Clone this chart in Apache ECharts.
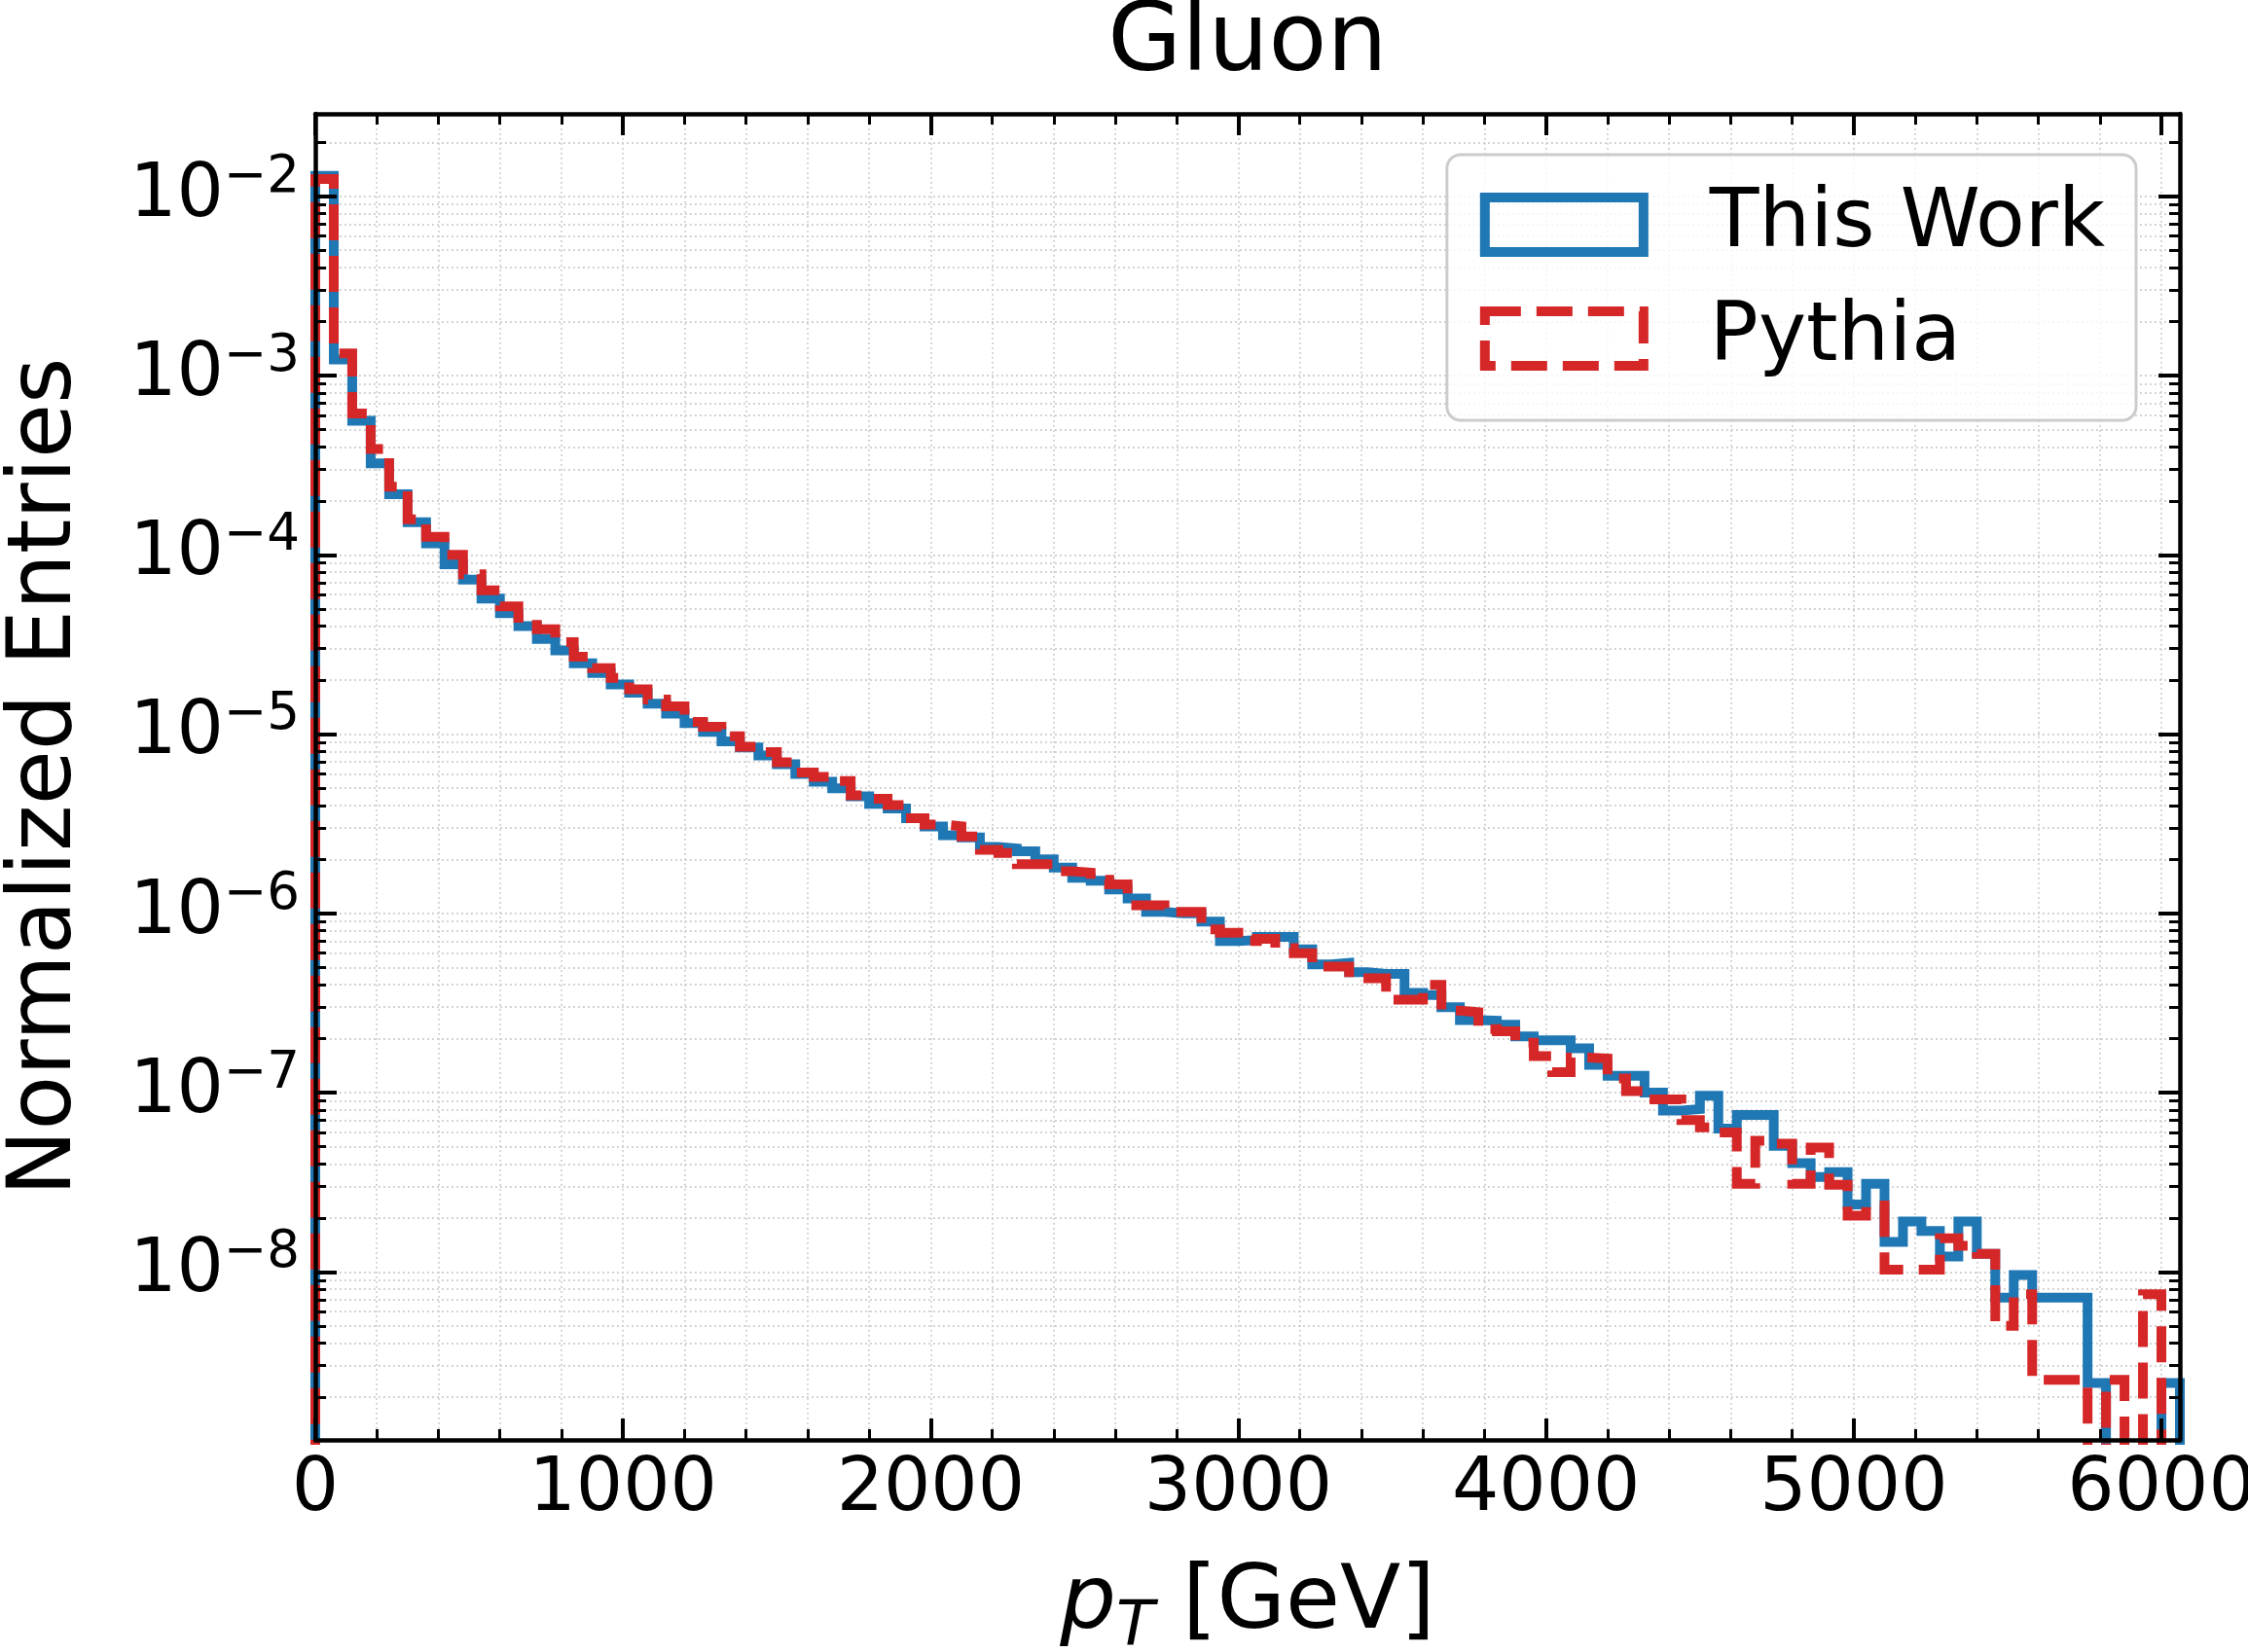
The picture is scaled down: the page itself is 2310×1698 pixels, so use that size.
<!DOCTYPE html>
<html>
<head>
<meta charset="utf-8">
<title>Gluon pT</title>
<script src="https://cdn.jsdelivr.net/npm/echarts@6/dist/echarts.min.js"></script>
<style>
  html, body { margin: 0; padding: 0; background: #fff; }
  #chart { width: 2310px; height: 1698px; }
</style>
</head>
<body>
<div id="chart"></div>
<script>
// histogram bins: 60 GeV wide, 101 bins from 0 to 6060 GeV
var binWidth = 60;
var xMax = 6060;
var xMajor = [0, 1000, 2000, 3000, 4000, 5000, 6000];
var xMinor = [200, 400, 600, 800, 1200, 1400, 1600, 1800, 2200, 2400, 2600, 2800,
              3200, 3400, 3600, 3800, 4200, 4400, 4600, 4800, 5200, 5400, 5600, 5800];
var yMajorExp = [-8, -7, -6, -5, -4, -3, -2];
// log10 of the y limits
var yMin = -8.937;
var yMax = -1.540;

// normalized entries per bin
var thisWork = [
  1.30e-2, 1.23e-3, 5.6e-4, 3.24e-4, 2.18e-4, 1.52e-4, 1.16e-4, 8.85e-5, 7.28e-5, 5.71e-5,
  4.73e-5, 4.01e-5, 3.39e-5, 2.93e-5, 2.48e-5, 2.19e-5, 1.89e-5, 1.70e-5, 1.48e-5, 1.30e-5,
  1.15e-5, 1.03e-5, 9.12e-6, 8.43e-6, 7.6e-6, 6.8e-6, 6.0e-6, 5.42e-6, 4.99e-6, 4.5e-6,
  4.08e-6, 3.85e-6, 3.39e-6, 3.05e-6, 2.73e-6, 2.65e-6, 2.35e-6, 2.3e-6, 2.22e-6, 2.0e-6,
  1.80e-6, 1.58e-6, 1.52e-6, 1.36e-6, 1.21e-6, 1.02e-6, 1.0e-6, 1.0e-6, 9.0e-7, 7.0e-7,
  7.1e-7, 7.4e-7, 7.4e-7, 6.3e-7, 5.2e-7, 5.3e-7, 4.7e-7, 4.6e-7, 4.6e-7, 3.6e-7,
  3.5e-7, 3.0e-7, 2.54e-7, 2.52e-7, 2.39e-7, 2.06e-7, 1.96e-7, 1.96e-7, 1.77e-7, 1.43e-7,
  1.24e-7, 1.24e-7, 1.0e-7, 7.94e-8, 8.1e-8, 9.6e-8, 6.3e-8, 7.5e-8, 7.5e-8, 5.05e-8,
  4.05e-8, 3.39e-8, 3.6e-8, 2.38e-8, 3.1e-8, 1.47e-8, 1.91e-8, 1.69e-8, 1.22e-8, 1.91e-8,
  1.26e-8, 7.2e-9, 9.6e-9, 7.2e-9, 7.2e-9, 7.2e-9, 2.4e-9, 0, 0, 0,
  2.4e-9
];
var pythia = [
  1.25e-2, 1.33e-3, 6.14e-4, 3.9e-4, 2.4e-4, 1.58e-4, 1.26e-4, 1.0e-4, 7.8e-5, 6.34e-5,
  5.16e-5, 4.45e-5, 3.85e-5, 3.26e-5, 2.70e-5, 2.33e-5, 2.06e-5, 1.78e-5, 1.56e-5, 1.43e-5,
  1.17e-5, 1.10e-5, 9.72e-6, 8.5e-6, 7.94e-6, 6.97e-6, 6.1e-6, 5.78e-6, 5.47e-6, 4.55e-6,
  4.36e-6, 4.02e-6, 3.4e-6, 3.13e-6, 3.06e-6, 2.69e-6, 2.26e-6, 2.17e-6, 1.88e-6, 1.88e-6,
  1.72e-6, 1.69e-6, 1.54e-6, 1.45e-6, 1.11e-6, 1.11e-6, 1.02e-6, 1.02e-6, 8.15e-7, 7.8e-7,
  7.0e-7, 7.2e-7, 6.4e-7, 6.0e-7, 5.05e-7, 5.05e-7, 4.35e-7, 4.35e-7, 3.3e-7, 3.3e-7,
  4.0e-7, 2.87e-7, 2.81e-7, 2.26e-7, 2.2e-7, 1.9e-7, 1.6e-7, 1.3e-7, 1.57e-7, 1.55e-7,
  1.2e-7, 1.02e-7, 9.16e-8, 9.16e-8, 7.03e-8, 6.4e-8, 6.0e-8, 3.1e-8, 5.4e-8, 5.2e-8,
  3.1e-8, 4.94e-8, 3.06e-8, 2.06e-8, 2.35e-8, 1.03e-8, 1.03e-8, 1.03e-8, 1.54e-8, 1.4e-8,
  1.26e-8, 5.0e-9, 7.5e-9, 2.5e-9, 2.5e-9, 2.5e-9, 0, 2.5e-9, 0, 7.5e-9,
  0
];

var FONT = 'DejaVu Sans';
var BLACK = '#000000';
var FLOOR = -10; // empty bins fall below the axis and get clipped

function toLog(v) {
  return v > 0 ? Math.log10(v) : FLOOR;
}

// step outline like matplotlib histtype='step'
function stepPoints(vals) {
  var pts = [[0, FLOOR]];
  for (var i = 0; i < vals.length; i++) {
    pts.push([i * binWidth, toLog(vals[i])]);
  }
  pts.push([vals.length * binWidth, toLog(vals[vals.length - 1])]);
  pts.push([vals.length * binWidth, FLOOR]);
  return pts;
}

var yMinor = [];
for (var n = -9; n <= -2; n++) {
  for (var k = 2; k <= 9; k++) {
    var t = n + Math.log10(k);
    if (t > yMin && t < yMax) yMinor.push(t);
  }
}
var xGrid = xMajor.concat(xMinor);
var yGrid = yMajorExp.concat(yMinor);

var gridLine = { color: '#cfcfcf', width: 1.8, type: [1.8, 3.2] };

function tickAxis(pos, isY, vals, len, w, showLine) {
  var ax = {
    type: 'value',
    position: pos,
    min: isY ? yMin : 0,
    max: isY ? yMax : xMax,
    z: 5,
    axisLine: { show: showLine, onZero: false, lineStyle: { color: BLACK, width: 4.5 } },
    axisTick: { show: true, inside: true, length: len, customValues: vals,
                lineStyle: { color: BLACK, width: w } },
    axisLabel: { show: false },
    splitLine: { show: false }
  };
  return ax;
}

var xBottom = tickAxis('bottom', false, xMajor, 22, 4, true);
xBottom.axisLabel = {
  show: true, customValues: xMajor, margin: 14,
  formatter: function (v) { return String(Math.round(v)); },
  color: BLACK, fontSize: 76, fontFamily: FONT
};
xBottom.name = '{i|p}{t|T}{n| [GeV]}';
xBottom.nameLocation = 'middle';
xBottom.nameGap = 112;
xBottom.nameTextStyle = {
  color: BLACK, fontSize: 91, fontFamily: FONT,
  rich: {
    i: { fontSize: 91, fontStyle: 'italic', fontFamily: FONT, color: BLACK },
    t: { fontSize: 64, fontStyle: 'italic', fontFamily: FONT, color: BLACK, padding: [50, 0, 0, 0] },
    n: { fontSize: 91, fontFamily: FONT, color: BLACK }
  }
};

var yLeft = tickAxis('left', true, yMajorExp, 22, 4, true);
yLeft.axisLabel = {
  show: true, customValues: yMajorExp, margin: 16,
  formatter: function (v) { return '{b|10}{s|\u2212' + Math.round(-v) + '}'; },
  rich: {
    b: { fontSize: 76, fontFamily: FONT, color: BLACK },
    s: { fontSize: 53, fontFamily: FONT, color: BLACK, padding: [0, 0, 38, 0] }
  }
};
yLeft.name = 'Normalized Entries';
yLeft.nameLocation = 'middle';
yLeft.nameRotate = 90;
yLeft.nameGap = 230;
yLeft.nameTextStyle = { color: BLACK, fontSize: 91, fontFamily: FONT };

var option = {
  backgroundColor: '#ffffff',
  animation: false,
  title: {
    text: 'Gluon',
    left: 1282, top: -2, textAlign: 'center', padding: 0,
    textStyle: { fontSize: 98, fontWeight: 'normal', color: BLACK, fontFamily: FONT, lineHeight: 98 }
  },
  grid: { left: 324, right: 70, top: 117, bottom: 218, containLabel: false, outerBoundsMode: 'none' },
  legend: {
    right: 115, top: 159, orient: 'vertical', align: 'left',
    itemWidth: 163, itemHeight: 56, itemGap: 5,
    padding: [16, 32, 28, 34],
    backgroundColor: 'rgba(255,255,255,0.8)',
    borderColor: '#cccccc', borderWidth: 3, borderRadius: 14,
    selectedMode: false,
    textStyle: { color: BLACK, fontSize: 83, fontFamily: FONT, lineHeight: 100, padding: [12, 0, 0, 63] },
    data: [
      { name: 'This Work', icon: 'rect',
        itemStyle: { color: 'rgba(0,0,0,0)', borderColor: '#1f77b4', borderWidth: 10 } },
      { name: 'Pythia', icon: 'rect',
        itemStyle: { color: 'rgba(0,0,0,0)', borderColor: '#d62728', borderWidth: 10, borderType: [37, 16] } }
    ]
  },
  xAxis: [
    { // data axis, carries the vertical grid lines
      type: 'value', min: 0, max: xMax, position: 'bottom', z: 0,
      axisLine: { show: false, onZero: false },
      axisTick: { show: false, customValues: xGrid },
      axisLabel: { show: false },
      splitLine: { show: true, lineStyle: gridLine }
    },
    xBottom,
    tickAxis('bottom', false, xMinor, 11, 3, false),
    tickAxis('top', false, xMajor, 22, 4, true),
    tickAxis('top', false, xMinor, 11, 3, false)
  ],
  yAxis: [
    { // data axis (log10 space), carries the horizontal grid lines
      type: 'value', min: yMin, max: yMax, position: 'left', z: 0,
      axisLine: { show: false, onZero: false },
      axisTick: { show: false, customValues: yGrid },
      axisLabel: { show: false },
      splitLine: { show: true, lineStyle: gridLine }
    },
    yLeft,
    tickAxis('left', true, yMinor, 11, 3, false),
    tickAxis('right', true, yMajorExp, 22, 4, true),
    tickAxis('right', true, yMinor, 11, 3, false)
  ],
  series: [
    {
      name: 'This Work', type: 'line', xAxisIndex: 0, yAxisIndex: 0,
      data: stepPoints(thisWork), step: 'end', symbol: 'none', silent: true, clip: true,
      lineStyle: { color: '#1f77b4', width: 10, cap: 'butt', join: 'miter' },
      itemStyle: { color: '#1f77b4' }, z: 2
    },
    {
      name: 'Pythia', type: 'line', xAxisIndex: 0, yAxisIndex: 0,
      data: stepPoints(pythia), step: 'end', symbol: 'none', silent: true, clip: true,
      lineStyle: { color: '#d62728', width: 10, type: [37, 16], cap: 'butt', join: 'miter' },
      itemStyle: { color: '#d62728' }, z: 3
    }
  ]
};

var myChart = echarts.init(document.getElementById('chart'), null, { renderer: 'canvas', devicePixelRatio: 1 });
myChart.setOption(option);
</script>
</body>
</html>
